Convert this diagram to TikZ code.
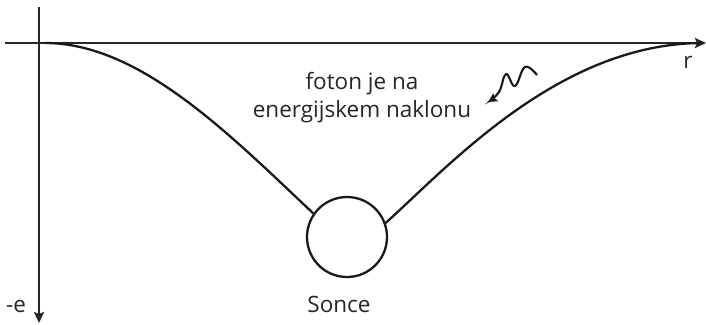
\documentclass[tikz,border=0pt]{standalone}
\usepackage{fontspec}
\setmainfont{Open Sans}
\usetikzlibrary{arrows.meta}

\begin{document}
\begin{tikzpicture}[
  x=1pt,
  y=-1pt,
  font=\fontsize{22.5}{28}\selectfont,
  >={Stealth[length=11pt,width=10pt,inset=2pt]},
  axis/.style={->, line width=2.6pt, draw=black!85},
  well/.style={line width=2.3pt, draw=black!90},
  photon/.style={->, line width=2.1pt, draw=black!90,
    >={Stealth[length=9pt,width=9pt,inset=1.5pt]}},
  label/.style={text=black!85, inner sep=0pt}
]

\useasboundingbox (0,0) rectangle (706,324);

% axes
\coordinate (xstart) at (5,43);
\coordinate (xend) at (706,43);
\coordinate (ystart) at (39,7);
\coordinate (yend) at (39,323);
\draw[axis] (xstart) -- (xend);
\draw[axis] (ystart) -- (yend);

% Sun at the bottom of the well
\node[well, circle, minimum size=80pt, inner sep=0pt] (sun) at (347,237) {};

% potential well
\coordinate (wleft) at (45,43);
\coordinate (wright) at (703,43);
\draw[well] (wleft) .. controls (140,43) and (230,135) .. (sun.145);
\draw[well] (sun.20) .. controls (450,165) and (560,43) .. (wright);

% photon
\coordinate (ph0) at (537,75);
\coordinate (ph1) at (488,102);
\draw[photon] plot[smooth, tension=0.7] coordinates
  {(ph0) (525,67) (515,86) (506,74) (499,92) (ph1)};

% labels
\node[label, align=center] (note) at (362,98)
  {foton je na\\energijskem naklonu};
\node[label, anchor=base] (rlab) at (688,68) {r};
\node[label, anchor=base] (elab) at (16,312) {-e};
\node[label, anchor=base] (sunlab) at (339,312) {Sonce};

\end{tikzpicture}
\end{document}
